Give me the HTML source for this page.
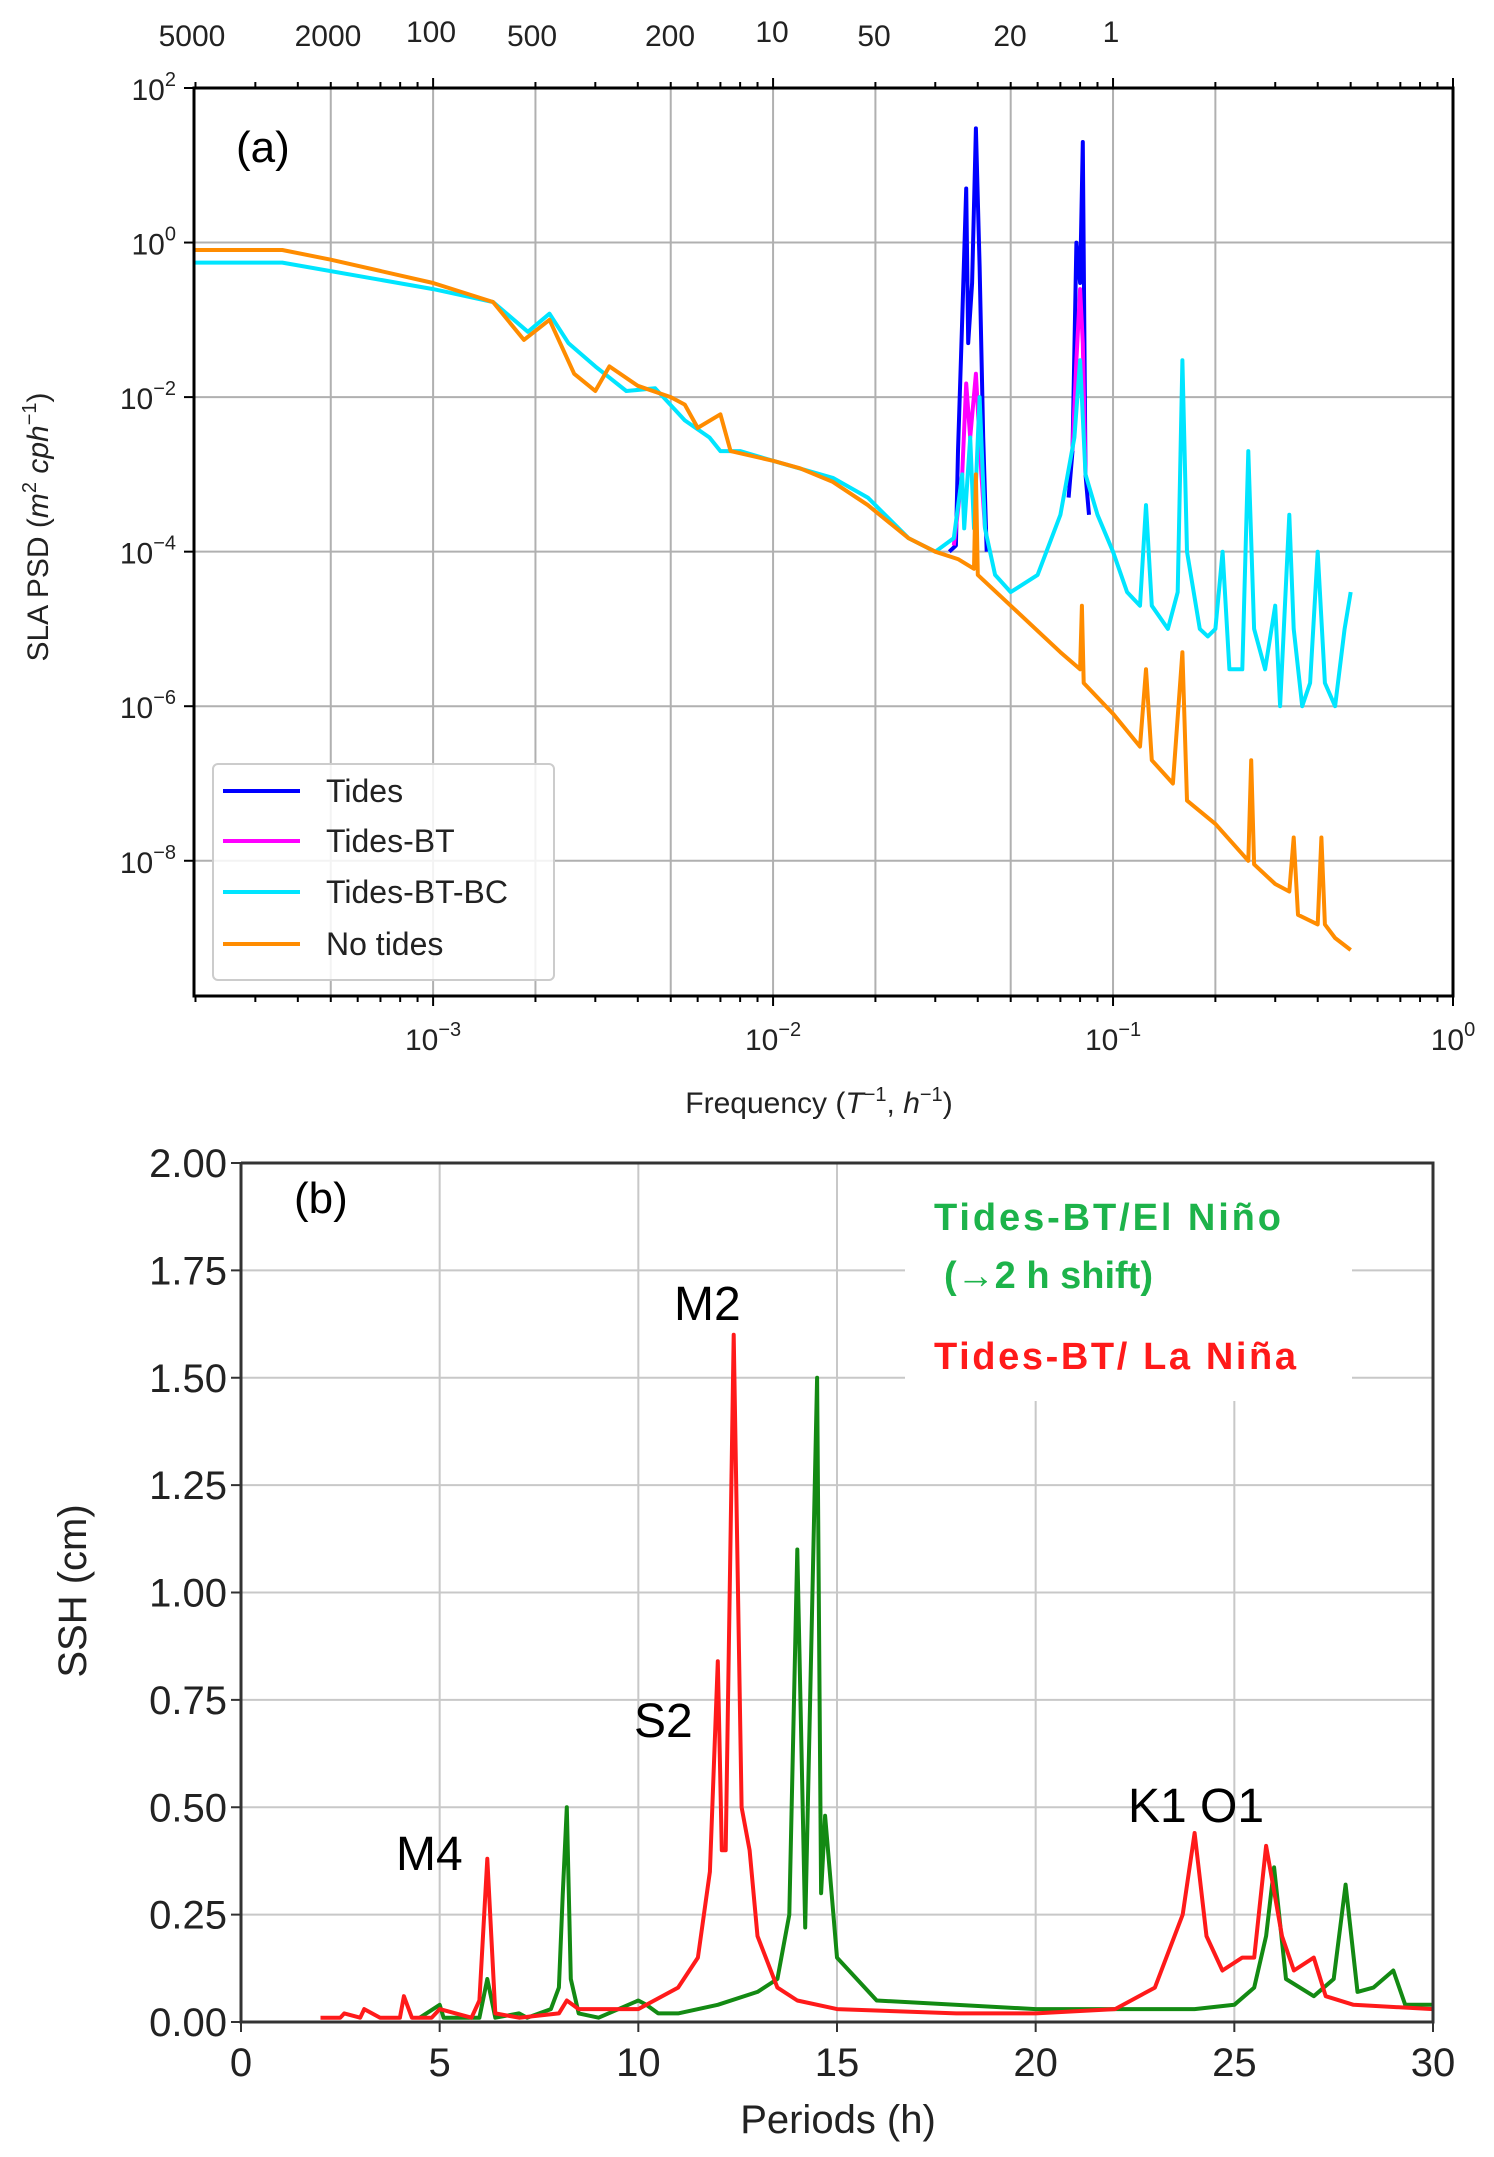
<!DOCTYPE html>
<html><head><meta charset="utf-8"><style>
body{margin:0;background:#fff}
svg{display:block}
text{font-family:"Liberation Sans",sans-serif}
</style></head><body>
<svg id="fig" width="1494" height="2157" viewBox="0 0 1494 2157" xmlns="http://www.w3.org/2000/svg">
<g id="pa"></g>
<g id="pb"></g>
</svg>
<script>
// ---------- Panel (a) data ----------
const topTickLabels=["5000","2000","100","500","200","10","50","20","1"];
const topTickFreqs=[2e-4,5e-4,1e-3,2e-3,5e-3,1e-2,2e-2,5e-2,1e-1];
const yDecades=[2,0,-2,-4,-6,-8];
const xDecades=[-3,-2,-1,0];
const freqCyan=[2e-4,3.6e-4,1e-3,1.5e-3,1.9e-3,2.2e-3,2.5e-3,3e-3,3.7e-3,4.5e-3,5.5e-3,6.5e-3,7e-3,8e-3,1e-2,1.5e-2,1.9e-2,2.5e-2,3e-2,3.4e-2,3.6e-2,3.65e-2,3.8e-2,3.9e-2,4.05e-2,4.2e-2,4.5e-2,5e-2,6e-2,7e-2,7.7e-2,8e-2,8.3e-2,9e-2,1e-1,1.1e-1,1.2e-1,1.25e-1,1.3e-1,1.45e-1,1.55e-1,1.6e-1,1.65e-1,1.8e-1,1.9e-1,2e-1,2.1e-1,2.2e-1,2.4e-1,2.5e-1,2.6e-1,2.8e-1,3e-1,3.1e-1,3.3e-1,3.4e-1,3.6e-1,3.8e-1,4e-1,4.2e-1,4.5e-1,4.8e-1,5e-1];
const psdCyan=[0.55,0.55,0.25,0.17,0.07,0.12,0.05,0.025,0.012,0.013,0.005,0.003,0.002,0.002,0.0015,9e-4,5e-4,1.5e-4,1e-4,1.5e-4,1e-3,2e-4,3e-3,2e-4,1e-2,2e-4,5e-5,3e-5,5e-5,3e-4,3e-3,3e-2,1e-3,3e-4,1e-4,3e-5,2e-5,4e-4,2e-5,1e-5,3e-5,3e-2,1e-4,1e-5,8e-6,1e-5,1e-4,3e-6,3e-6,2e-3,1e-5,3e-6,2e-5,1e-6,3e-4,1e-5,1e-6,2e-6,1e-4,2e-6,1e-6,1e-5,3e-5];
// semidiurnal band and diurnal band for Tides
const freqBlue1=[3.3e-2,3.45e-2,3.5e-2,3.6e-2,3.7e-2,3.75e-2,3.85e-2,3.95e-2,4.05e-2,4.15e-2,4.25e-2];
const psdBlue1=[1e-4,1.2e-4,2e-3,0.1,5,0.05,0.3,30,0.5,3e-3,1e-4];
const freqBlue2=[7.4e-2,7.6e-2,7.8e-2,8e-2,8.15e-2,8.3e-2,8.5e-2];
const psdBlue2=[5e-4,2e-3,1,0.3,20,1e-3,3e-4];
const freqMag1=[3.4e-2,3.6e-2,3.7e-2,3.8e-2,3.95e-2,4.1e-2,4.2e-2];
const psdMag1=[1.2e-4,1e-3,1.5e-2,3e-3,2e-2,1e-3,2e-4];
const freqMag2=[7.6e-2,7.8e-2,8e-2,8.15e-2,8.3e-2];
const psdMag2=[2e-3,0.03,0.25,0.05,1e-3];
const freqOrange=[2e-4,3.6e-4,5e-4,1e-3,1.5e-3,1.85e-3,2.2e-3,2.6e-3,3e-3,3.3e-3,4e-3,5e-3,5.5e-3,6e-3,7e-3,7.5e-3,1e-2,1.2e-2,1.5e-2,1.9e-2,2.5e-2,3e-2,3.5e-2,3.9e-2,3.95e-2,4e-2,5e-2,7e-2,8e-2,8.1e-2,8.2e-2,1e-1,1.2e-1,1.25e-1,1.3e-1,1.5e-1,1.6e-1,1.65e-1,2e-1,2.5e-1,2.55e-1,2.6e-1,3e-1,3.3e-1,3.4e-1,3.5e-1,4e-1,4.1e-1,4.2e-1,4.5e-1,5e-1];
const psdOrange=[0.8,0.8,0.6,0.3,0.17,0.055,0.1,0.02,0.012,0.025,0.014,0.01,0.008,0.004,0.006,0.002,0.0015,0.0012,8e-4,4e-4,1.5e-4,1e-4,8e-5,6e-5,1e-3,5e-5,2e-5,5e-6,3e-6,2e-5,2e-6,8e-7,3e-7,3e-6,2e-7,1e-7,5e-6,6e-8,3e-8,1e-8,2e-7,9e-9,5e-9,4e-9,2e-8,2e-9,1.5e-9,2e-8,1.5e-9,1e-9,7e-10];
// ---------- Panel (b) data ----------
const bXTicks=[0,5,10,15,20,25,30];
const bYTicks=[0,0.25,0.5,0.75,1,1.25,1.5,1.75,2];
const perRed=[2,2.5,2.6,3,3.1,3.5,4,4.1,4.3,4.8,5,5.8,6.0,6.2,6.4,7,8,8.2,8.5,10,11,11.5,11.8,12.0,12.1,12.2,12.4,12.6,12.8,13,13.5,14,15,18,20,22,23,23.7,24,24.3,24.7,25.2,25.5,25.8,26.2,26.5,27,27.3,28,30];
const sshRed=[0.01,0.01,0.02,0.01,0.03,0.01,0.01,0.06,0.01,0.01,0.03,0.01,0.05,0.38,0.02,0.01,0.02,0.05,0.03,0.03,0.08,0.15,0.35,0.84,0.4,0.4,1.6,0.5,0.4,0.2,0.08,0.05,0.03,0.02,0.02,0.03,0.08,0.25,0.44,0.2,0.12,0.15,0.15,0.41,0.2,0.12,0.15,0.06,0.04,0.03];
const perGreen=[4.5,5,5.1,6,6.2,6.4,7,7.2,7.8,8,8.1,8.2,8.3,8.5,9,10,10.2,10.5,11,12,13,13.5,13.8,14,14.2,14.5,14.6,14.7,15,16,20,24,25,25.5,25.8,26,26.3,27,27.5,27.8,28.1,28.5,29,29.3,30];
const sshGreen=[0.01,0.04,0.01,0.01,0.1,0.01,0.02,0.01,0.03,0.08,0.3,0.5,0.1,0.02,0.01,0.05,0.04,0.02,0.02,0.04,0.07,0.1,0.25,1.1,0.22,1.5,0.3,0.48,0.15,0.05,0.03,0.03,0.04,0.08,0.2,0.36,0.1,0.06,0.1,0.32,0.07,0.08,0.12,0.04,0.04];

const NS="http://www.w3.org/2000/svg";
function mk(parent,tag,attrs,txt){const e=document.createElementNS(NS,tag);for(const k in attrs)e.setAttribute(k,attrs[k]);if(txt!==undefined)e.textContent=txt;parent.appendChild(e);return e;}

// ===== Panel A =====
const pa=document.getElementById('pa');
const aL=194,aR=1453,aT=88,aB=996;
const lxMin=Math.log10(1.98e-4),lxMax=0,lyMin=-9.75,lyMax=2;
const ax=f=>aL+(Math.log10(f)-lxMin)/(lxMax-lxMin)*(aR-aL);
const ay=v=>aB-(Math.log10(v)-lyMin)/(lyMax-lyMin)*(aB-aT);
const gridFreqs=[5e-4,1e-3,2e-3,5e-3,1e-2,2e-2,5e-2,1e-1,2e-1];
gridFreqs.forEach(f=>{const l=mk(pa,'line',{x1:ax(f),x2:ax(f),y1:aT,y2:aB,stroke:'#b0b0b0','stroke-width':2});

});
yDecades.slice(1).forEach(d=>{const l=mk(pa,'line',{x1:aL,x2:aR,y1:ay(Math.pow(10,d)),y2:ay(Math.pow(10,d)),stroke:'#b0b0b0','stroke-width':2});

});
for(let e=-4;e<0;e++)for(let m=1;m<10;m++){const f=m*Math.pow(10,e);if(f<1.98e-4)continue;const x=ax(f);
mk(pa,'line',{x1:x,x2:x,y1:aB,y2:aB+(m==1?10:6),stroke:'#000','stroke-width':2});
mk(pa,'line',{x1:x,x2:x,y1:aT,y2:aT-(m==1?10:6),stroke:'#000','stroke-width':2});}
mk(pa,'line',{x1:aR,x2:aR,y1:aB,y2:aB+10,stroke:'#000','stroke-width':2});
mk(pa,'line',{x1:aR,x2:aR,y1:aT,y2:aT-10,stroke:'#000','stroke-width':2});
function pathLog(fs,vs){return fs.map((f,i)=>(i?'L':'M')+ax(f).toFixed(1)+','+ay(vs[i]).toFixed(1)).join('');}
const sBlue=mk(pa,'path',{d:pathLog(freqBlue1,psdBlue1)+pathLog(freqBlue2,psdBlue2),fill:'none',stroke:'#0000ff','stroke-width':4,'stroke-linejoin':'round'});


const sMag=mk(pa,'path',{d:pathLog(freqMag1,psdMag1)+pathLog(freqMag2,psdMag2),fill:'none',stroke:'#ff00ff','stroke-width':4,'stroke-linejoin':'round'});


const sCyan=mk(pa,'path',{d:pathLog(freqCyan,psdCyan),fill:'none',stroke:'#00e5ff','stroke-width':4,'stroke-linejoin':'round'});


const sOr=mk(pa,'path',{d:pathLog(freqOrange,psdOrange),fill:'none',stroke:'#ff8c00','stroke-width':4,'stroke-linejoin':'round'});


const fa=mk(pa,'rect',{x:aL,y:aT,width:aR-aL,height:aB-aT,fill:'none',stroke:'#000','stroke-width':3});


yDecades.forEach(d=>{const y=ay(Math.pow(10,d));
mk(pa,'line',{x1:aL-10,x2:aL,y1:y,y2:y,stroke:'#000','stroke-width':2});
const t=mk(pa,'text',{x:aL-18,y:y+12,'text-anchor':'end','font-size':30,fill:'#222'});


mk(t,'tspan',{},'10');mk(t,'tspan',{dy:-14,'font-size':20},String(d).replace('-','−'));});
xDecades.forEach(d=>{const x=ax(Math.pow(10,d));
const t=mk(pa,'text',{x:x,y:1050,'text-anchor':'middle','font-size':30,fill:'#222'});


mk(t,'tspan',{},'10');mk(t,'tspan',{dy:-14,'font-size':20},String(d).replace('-','−'));});
const topX=[192,328,431,532,670,772,874,1010,1111];
topTickLabels.forEach((s,i)=>{const t=mk(pa,'text',{x:topX[i],y:[2,5,8].includes(i)?42:46,'text-anchor':'middle','font-size':30,fill:'#222'},s);

});
const xl=mk(pa,'text',{x:819,y:1113,'text-anchor':'middle','font-size':30,fill:'#222'});


xl.innerHTML='Frequency (<tspan font-style="italic">T</tspan><tspan dy="-12" font-size="20">−1</tspan><tspan dy="12">, </tspan><tspan font-style="italic">h</tspan><tspan dy="-12" font-size="20">−1</tspan><tspan dy="12">)</tspan>';
const yl=mk(pa,'text',{x:0,y:0,'text-anchor':'middle','font-size':30,fill:'#222',transform:'translate(48,527) rotate(-90)'});


yl.innerHTML='SLA PSD (<tspan font-style="italic">m</tspan><tspan dy="-12" font-size="20">2</tspan><tspan dy="12" font-style="italic"> cph</tspan><tspan dy="-12" font-size="20">−1</tspan><tspan dy="12">)</tspan>';
const la=mk(pa,'text',{x:236,y:162,'font-size':44,fill:'#000'},'(a)');


const lg=mk(pa,'g',{});


mk(lg,'rect',{x:213,y:764,width:341,height:216,rx:5,fill:'#fff','fill-opacity':0.85,stroke:'#ccc','stroke-width':2});
const legNames=['Tides','Tides-BT','Tides-BT-BC','No tides'];
const legCols=['#0000ff','#ff00ff','#00e5ff','#ff8c00'];
const legY=[791,841,892,944];
legNames.forEach((n,i)=>{const g=mk(lg,'g',{});


mk(g,'line',{x1:223,x2:300,y1:legY[i],y2:legY[i],stroke:legCols[i],'stroke-width':4});
mk(g,'text',{x:326,y:legY[i]+11,'font-size':32,fill:'#222'},n);});

// ===== Panel B =====
const pb=document.getElementById('pb');
const bL=241,bR=1433,bT=1163,bB=2022;
const bx=p=>bL+p/30*(bR-bL);
const by=v=>bB-v/2*(bB-bT);
bXTicks.slice(1,-1).forEach(p=>{const l=mk(pb,'line',{x1:bx(p),x2:bx(p),y1:bT,y2:bB,stroke:'#c8c8c8','stroke-width':2});

});
bYTicks.slice(1,-1).forEach(v=>{const l=mk(pb,'line',{x1:bL,x2:bR,y1:by(v),y2:by(v),stroke:'#c8c8c8','stroke-width':2});

});
function pathLin(ps,vs){return ps.map((p,i)=>(i?'L':'M')+bx(p).toFixed(1)+','+by(vs[i]).toFixed(1)).join('');}
const sG=mk(pb,'path',{d:pathLin(perGreen,sshGreen),fill:'none',stroke:'#138a13','stroke-width':4,'stroke-linejoin':'round'});


const sR=mk(pb,'path',{d:pathLin(perRed,sshRed),fill:'none',stroke:'#ff1a1a','stroke-width':4,'stroke-linejoin':'round'});


const tb=mk(pb,'rect',{x:905,y:1161,width:447,height:240,fill:'#fff'});


const fb=mk(pb,'polyline',{points:`${bL},${bT} ${bL},${bB} ${bR},${bB} ${bR},${bT} ${bL},${bT}`,fill:'none',stroke:'#333','stroke-width':3});


bYTicks.forEach(v=>{const y=by(v);
mk(pb,'line',{x1:bL-10,x2:bL,y1:y,y2:y,stroke:'#333','stroke-width':2});
const t=mk(pb,'text',{x:bL-14,y:y+14,'text-anchor':'end','font-size':40,fill:'#222'},v.toFixed(2));

});
bXTicks.forEach(p=>{const x=bx(p);
mk(pb,'line',{x1:x,x2:x,y1:bB,y2:bB+10,stroke:'#333','stroke-width':2});
const t=mk(pb,'text',{x:x,y:2076,'text-anchor':'middle','font-size':40,fill:'#222'},String(p));

});
const bxl=mk(pb,'text',{x:838,y:2133,'text-anchor':'middle','font-size':40,fill:'#222'},'Periods (h)');


const byl=mk(pb,'text',{x:0,y:0,'text-anchor':'middle','font-size':40,fill:'#222',transform:'translate(86,1591) rotate(-90)'},'SSH (cm)');


const lb=mk(pb,'text',{x:294,y:1213,'font-size':44,fill:'#000'},'(b)');


const t1=mk(pb,'text',{x:934,y:1230,'font-size':38,'font-weight':'bold',fill:'#1db34a',textLength:347},'Tides-BT/El Niño');


const t2=mk(pb,'text',{x:944,y:1288,'font-size':38,'font-weight':'bold',fill:'#1db34a'},'(→2 h shift)');


const t3=mk(pb,'text',{x:934,y:1369,'font-size':38,'font-weight':'bold',fill:'#ff1a1a',textLength:362},'Tides-BT/ La Niña');


const ann=[['M2',674,1320],['S2',634,1737],['M4',396,1870],['K1 O1',1128,1822]];
ann.forEach(a=>{const t=mk(pb,'text',{x:a[1],y:a[2],'font-size':48,fill:'#000'},a[0]);

});
</script>
</body></html>
